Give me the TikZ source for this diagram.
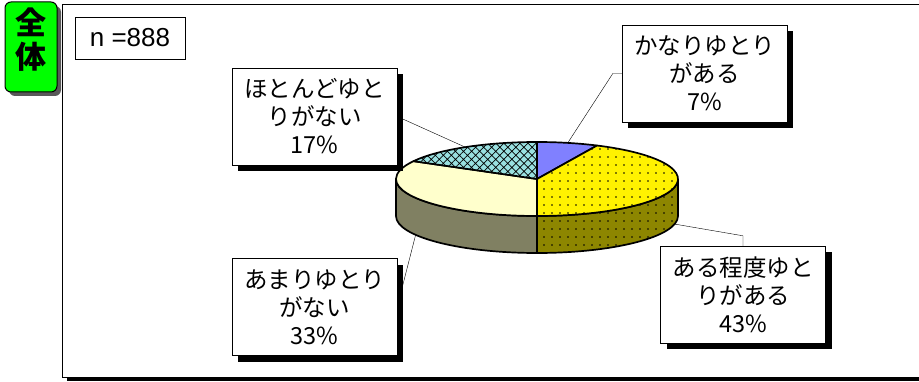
\documentclass[tikz,border=0pt]{standalone}
\usepackage{fontspec}
\setmainfont{Liberation Sans}
\newfontfamily\jp{Noto Sans CJK JP}
\usepackage{tikz}
\usepackage{xcolor}
\usetikzlibrary{positioning, calc, shadows, patterns.meta}

\definecolor{slicepurple}{RGB}{128,128,255}
\definecolor{slicepale}{RGB}{255,255,204}
\definecolor{slicecyan}{RGB}{153,224,224}
\definecolor{sidegray}{RGB}{128,128,98}
\definecolor{badgegreen}{RGB}{0,255,0}

\begin{document}
\begin{tikzpicture}[x=1pt, y=1pt,
    lab/.style={draw, thin, fill=white, minimum width=165pt, minimum height=97pt,
        inner sep=0pt, align=center, font=\jp\fontsize{23.5}{28}\selectfont,
        drop shadow={shadow xshift=6pt, shadow yshift=-6pt, opacity=1, fill=black}},
    pie/.style={x radius=141, y radius=37},
    rim/.style={draw, line width=1.7pt, line join=round},
    dots/.style={preaction={fill=#1}, pattern={Dots[distance=8pt, radius=0.95pt]}},
    hatch/.style={preaction={fill=#1}, pattern={Hatch[angle=45, distance=5.7pt, line width=0.7pt]}}]
    \useasboundingbox (0,0) rectangle (919,381);
    \clip (0,0) rectangle (919,381);

    % Frame
    \draw[line width=1pt] (930,376) -- (62,376) -- (62,4) -- (930,4);
    \fill (67,0.5) rectangle (930,3.5);

    % Badge
    \node[draw, line width=1pt, rounded corners=6pt, fill=badgegreen, minimum width=52pt, minimum height=90pt,
        drop shadow={shadow xshift=4pt, shadow yshift=-4pt, opacity=1, fill=black!65}] (badge) at (31,334) {};
    \node[font=\jp\bfseries\fontsize{31}{34}\selectfont, align=center, inner sep=0pt] (zentai) at (31,341) {全\\体};

    % Sample size
    \node[draw, thin, minimum width=110pt, minimum height=42pt, inner sep=0pt,
        font=\fontsize{26}{30}\selectfont] (n) at (130,343) {n =888};

    % Pie
    \coordinate (c) at (537,202);
    \coordinate (b) at (537,165);
    % Sides
    \path[rim, dots=olive] (c) ++(0:141 and 37) arc[pie, start angle=0, end angle=-90]
        -- ++(0,-37) arc[pie, start angle=-90, end angle=0] -- cycle;
    \path[rim, fill=sidegray] (c) ++(180:141 and 37) arc[pie, start angle=180, end angle=270]
        -- ++(0,-37) arc[pie, start angle=270, end angle=180] -- cycle;
    % Top
    \path[rim, fill=slicepurple] (c) -- ++(90:141 and 37) arc[pie, start angle=90, end angle=64.8] -- cycle;
    \path[rim, dots=yellow] (c) -- ++(64.8:141 and 37) arc[pie, start angle=64.8, end angle=-90] -- cycle;
    \path[rim, fill=slicepale] (c) -- ++(-90:141 and 37) arc[pie, start angle=-90, end angle=-208.8] -- cycle;
    \path[rim, hatch=slicecyan] (c) -- ++(-208.8:141 and 37) arc[pie, start angle=-208.8, end angle=-270] -- cycle;

    \coordinate (p1) at ($(c)+(77.4:141 and 37)$);
    \coordinate (p2) at ($(c)+(120.6:141 and 37)$);
    \coordinate (p3) at ($(b)+(-149.4:141 and 37)$);
    \coordinate (p4) at ($(b)+(-12.6:141 and 37)$);

    % Labels
    \node[lab] (k1) at (704.5,307.5) {かなりゆとり\\がある\\7\%};
    \node[lab] (k2) at (314.5,264.5) {ほとんどゆと\\りがない\\17\%};
    \node[lab] (k3) at (314.5,74) {あまりゆとり\\がない\\33\%};
    \node[lab] (k4) at (743,86.5) {ある程度ゆと\\りがある\\43\%};

    \draw[thin] (k1.west) -- ++(-9,0) -- (p1);
    \draw[thin] (k2.east) -- (p2);
    \draw[thin] (k3.east) -- (p3);
    \draw[thin] (k4.north) -- ++(0,10) -- (p4);
\end{tikzpicture}
\end{document}
